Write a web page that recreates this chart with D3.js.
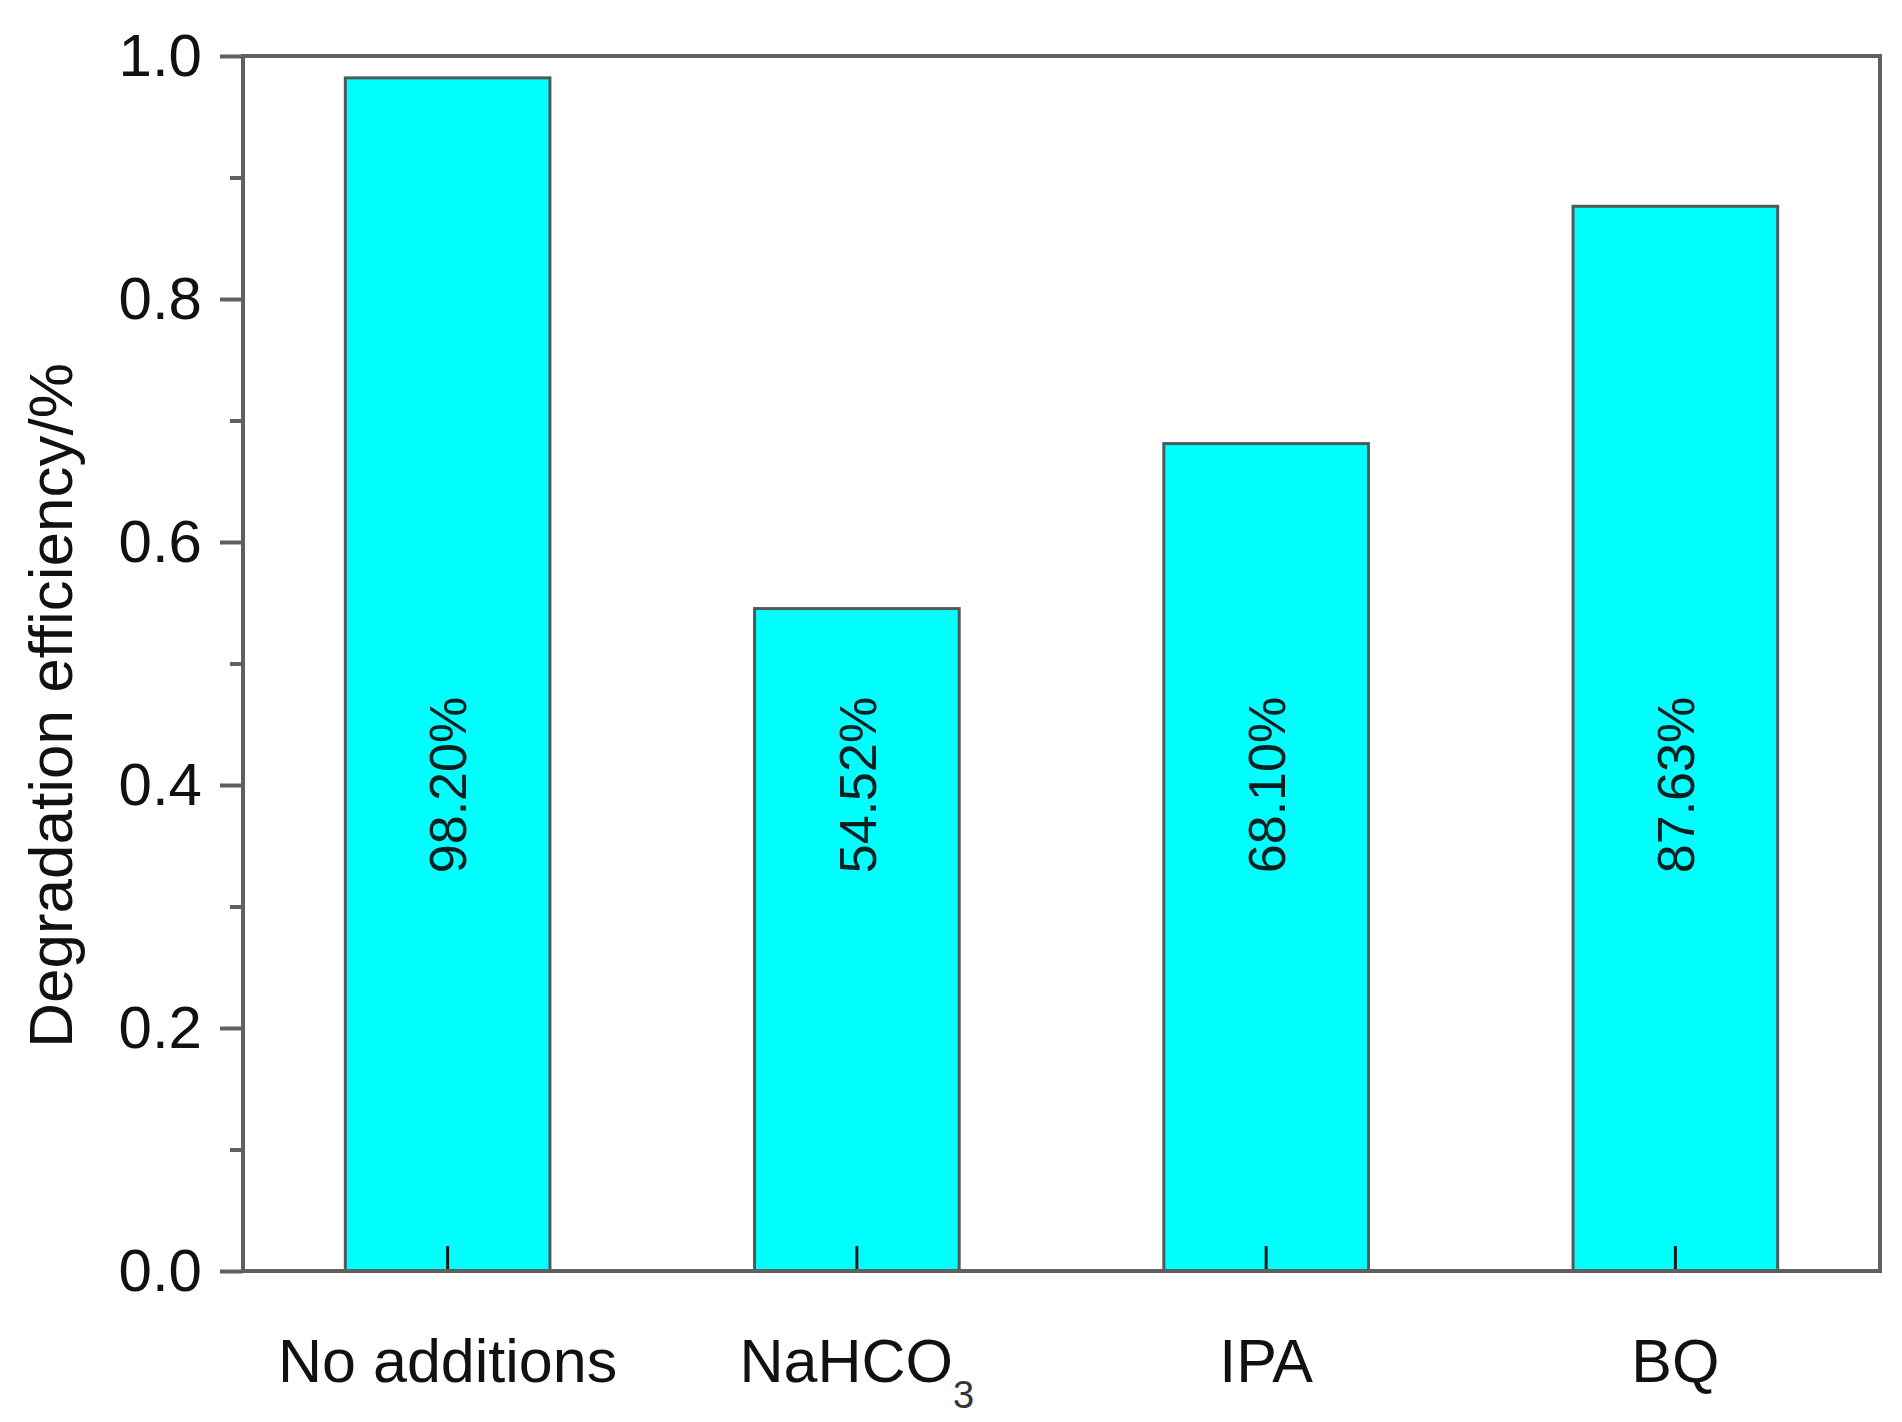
<!DOCTYPE html>
<html>
<head>
<meta charset="utf-8">
<script src="https://cdn.jsdelivr.net/npm/d3@7"></script>
<style>
  body { margin: 0; background: #fff; }
  text { font-family: "Liberation Sans", Arial, sans-serif; }
</style>
</head>
<body>
<svg id="chart" width="1902" height="1422"></svg>
<script>
var categories = ["No additions", "NaHCO3", "IPA", "BQ"];
var efficiency = [0.982, 0.5452, 0.681, 0.8763];
var valueLabels = ["98.20%", "54.52%", "68.10%", "87.63%"];
var majorTicks = [0.0, 0.2, 0.4, 0.6, 0.8, 1.0];
var minorTicks = [0.1, 0.3, 0.5, 0.7, 0.9];

var svg = d3.select("#chart"),
    margin = {top: 56, right: 22, bottom: 151, left: 243},
    width = +svg.attr("width") - margin.left - margin.right,
    height = +svg.attr("height") - margin.top - margin.bottom;

var axisColor = "#606060";

var x = d3.scaleBand().range([0, width]).paddingInner(0.5).paddingOuter(0.25)
    .domain(categories);
var y = d3.scaleLinear().range([height, 0]).domain([0, 1]);

var g = svg.append("g")
    .attr("transform", "translate(" + margin.left + "," + margin.top + ")");

// bars
g.selectAll(".bar")
  .data(efficiency)
  .enter().append("rect")
    .attr("class", "bar")
    .attr("x", function(d, i) { return x(categories[i]); })
    .attr("y", function(d) { return y(d); })
    .attr("width", x.bandwidth())
    .attr("height", function(d) { return height - y(d); })
    .attr("fill", "#00ffff")
    .attr("stroke", "#4d5a5a")
    .attr("stroke-width", 3);

// value labels, rotated, centred at 0.4
g.selectAll(".vlabel")
  .data(valueLabels)
  .enter().append("text")
    .attr("class", "vlabel")
    .attr("transform", function(d, i) {
      return "translate(" + (x(categories[i]) + x.bandwidth() / 2) + "," + y(0.4) + ") rotate(-90)";
    })
    .attr("text-anchor", "middle")
    .attr("dy", "0.36em")
    .attr("font-size", 52)
    .attr("fill", "#082020")
    .text(function(d) { return d; });

// x axis, ticks pointing inward
var xAxis = g.append("g")
    .attr("transform", "translate(0," + height + ")")
    .call(d3.axisBottom(x).tickSizeInner(-25).tickSizeOuter(0).tickFormat(""));
xAxis.select(".domain").remove();
xAxis.selectAll(".tick line").attr("stroke", "#1a1a1a").attr("stroke-width", 3);

// x labels
var xl = g.selectAll(".xlabel")
  .data(categories)
  .enter().append("text")
    .attr("class", "xlabel")
    .attr("x", function(d) { return x(d) + x.bandwidth() / 2; })
    .attr("y", height + 111)
    .attr("text-anchor", "middle")
    .attr("font-size", 61)
    .attr("fill", "#111");
xl.each(function(d) {
  var t = d3.select(this);
  if (d === "NaHCO3") {
    t.append("tspan").text("NaHCO");
    t.append("tspan").attr("font-size", 38).attr("dy", 26).attr("fill", "#333").text("3");
  } else {
    t.text(d);
  }
});

// y axis, major
var yAxis = g.append("g")
    .call(d3.axisLeft(y).tickValues(majorTicks).tickSize(23).tickSizeOuter(0).tickPadding(18)
      .tickFormat(d3.format(".1f")));
yAxis.select(".domain").remove();
yAxis.selectAll(".tick line").attr("stroke", axisColor).attr("stroke-width", 4);
yAxis.selectAll(".tick text").attr("font-size", 60).attr("fill", "#111")
    .attr("font-family", "'Liberation Sans', Arial, sans-serif");

// y axis, minor
var yMinor = g.append("g")
    .call(d3.axisLeft(y).tickValues(minorTicks).tickSize(13).tickFormat(""));
yMinor.select(".domain").remove();
yMinor.selectAll(".tick line").attr("stroke", axisColor).attr("stroke-width", 4);

// frame
g.append("rect")
    .attr("x", 0).attr("y", 0)
    .attr("width", width).attr("height", height)
    .attr("fill", "none")
    .attr("stroke", axisColor)
    .attr("stroke-width", 4);

// y title
g.append("text")
    .attr("transform", "rotate(-90)")
    .attr("x", -(y(0.5) + 42))
    .attr("y", 72 - margin.left)
    .attr("text-anchor", "middle")
    .attr("font-size", 62)
    .attr("fill", "#111")
    .text("Degradation efficiency/%");
</script>
</body>
</html>
